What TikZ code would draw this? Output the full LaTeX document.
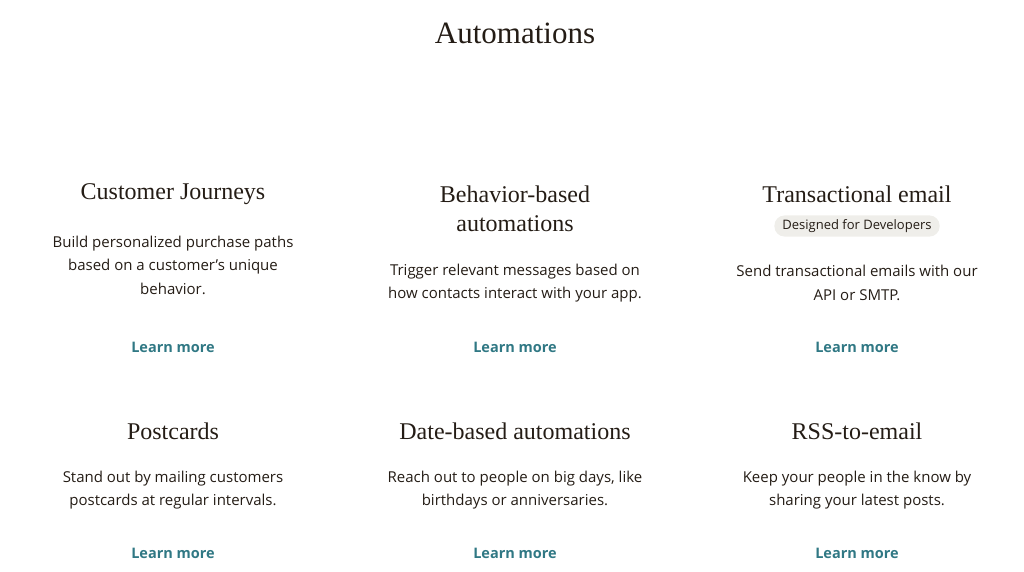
\documentclass[tikz,border=0pt]{standalone}
\usepackage{fontspec}
\setmainfont{Liberation Serif}
\newfontfamily\bodyfont{Open Sans}
\definecolor{ink}{RGB}{36,28,21}
\definecolor{linkteal}{RGB}{48,120,132}
\definecolor{badgebg}{RGB}{239,238,234}
\tikzset{
  heading/.style={text=ink,font=\fontsize{24}{29}\selectfont,align=center,inner sep=0pt},
  body/.style={text=ink,font=\bodyfont\fontsize{15}{23.5}\selectfont,align=center,inner sep=0pt},
  learn/.style={text=linkteal,font=\bodyfont\bfseries\fontsize{14.5}{17}\selectfont,inner sep=0pt},
  badge/.style={fill=badgebg,rounded corners=10pt,text=ink,font=\bodyfont\fontsize{13}{15}\selectfont,inner xsep=8pt,inner ysep=4pt}
}
\begin{document}
\begin{tikzpicture}[x=1pt,y=-1pt]
  \useasboundingbox (0,0) rectangle (1024,572);
  \node[text=ink,font=\fontsize{31}{36}\selectfont] (title) at (515,33) {Automations};

  %% first row
  \node[heading] (H1) at (173,194) {Customer Journeys};
  \node[body] (B1) at (173,265) {Build personalized purchase paths\\based on a customer’s unique\\behavior.};
  \node[learn] (L1) at (173,347) {Learn more};

  \node[heading] (H2) at (515,209) {Behavior-based\\automations};
  \node[body] (B2) at (515,283) {Trigger relevant messages based on\\how contacts interact with your app.};
  \node[learn] (L2) at (515,347) {Learn more};

  \node[heading] (H3) at (857,194) {Transactional email};
  \node[badge] (D3) at (857,226) {Designed for Developers};
  \node[body] (B3) at (857,283) {Send transactional emails with our\\API or SMTP.};
  \node[learn] (L3) at (857,347) {Learn more};

  %% second row
  \node[heading] (H4) at (173,431) {Postcards};
  \node[body] (B4) at (173,490) {Stand out by mailing customers\\postcards at regular intervals.};
  \node[learn] (L4) at (173,553) {Learn more};

  \node[heading] (H5) at (515,431) {Date-based automations};
  \node[body] (B5) at (515,490) {Reach out to people on big days, like\\birthdays or anniversaries.};
  \node[learn] (L5) at (515,553) {Learn more};

  \node[heading] (H6) at (857,431) {RSS-to-email};
  \node[body] (B6) at (857,490) {Keep your people in the know by\\sharing your latest posts.};
  \node[learn] (L6) at (857,553) {Learn more};
\end{tikzpicture}
\end{document}
